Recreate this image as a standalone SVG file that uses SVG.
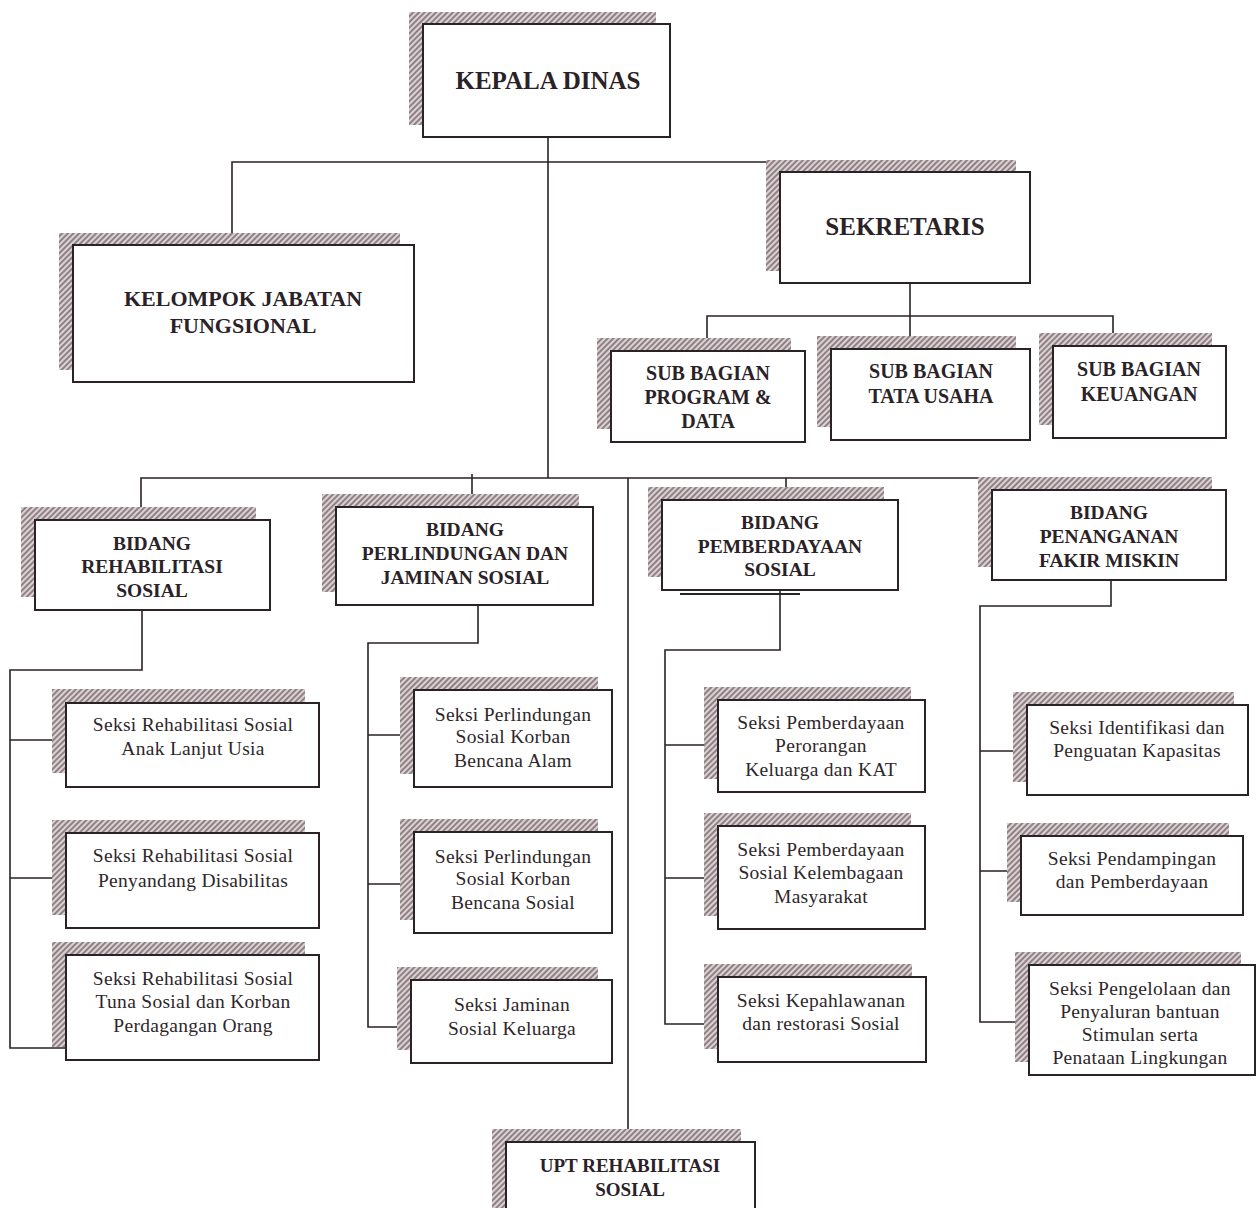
<svg xmlns="http://www.w3.org/2000/svg" width="1257" height="1208" viewBox="0 0 1257 1208">
<defs>
<pattern id="hatch" patternUnits="userSpaceOnUse" width="4" height="4" patternTransform="rotate(45)">
<rect width="4" height="4" fill="#ddd2d3"/>
<line x1="1" y1="0" x2="1" y2="4" stroke="#8e8185" stroke-width="2"/>
</pattern>
</defs>
<style>
.sh{fill:url(#hatch)}
.bx{fill:#fff;stroke:#2a2226;stroke-width:2}
.ln{fill:none;stroke:#2a2226;stroke-width:1.6}
.h{font-family:"Liberation Serif","Times New Roman",serif;font-weight:bold;fill:#2a2226;text-anchor:middle}
.s{font-family:"Liberation Serif","Times New Roman",serif;font-size:19.5px;letter-spacing:0.3px;fill:#2e272a;text-anchor:middle}
.h22{font-size:25px}
.h20{font-size:22px}
.hsb{font-size:20px}
.h18{font-size:19.5px}
</style>
<rect width="1257" height="1208" fill="#fff"/>

<g id="connectors" class="ln">
<path d="M548 137V478"/>
<path d="M232 245V162H910V172"/>
<path d="M910 283V316"/>
<path d="M707 351V316H1113V346"/>
<path d="M910 316V349"/>
<path d="M141 520V478H1111V490"/>
<path d="M472 474V507"/>
<path d="M628 478V1142"/>
<path d="M786 478V500"/>
<path d="M142 610V670H10V1048H66"/>
<path d="M10 740H66M10 878H66"/>
<path d="M478 605V643H368V1027H411"/>
<path d="M368 735H414M368 884H414"/>
<path d="M780 590V650H665V1024H718"/>
<path d="M665 745H718M665 878H718"/>
<path d="M1111 580V606H980V1022H1029"/>
<path d="M980 751H1027M980 871H1021"/>
</g>

<g id="kepala-dinas">
<rect class="sh" x="409" y="12" width="247" height="113"/>
<rect class="bx" x="423" y="24" width="247" height="113"/>
<text class="h h22" x="548" y="89">KEPALA DINAS</text>
</g>

<g id="kelompok-jabatan-fungsional">
<rect class="sh" x="59" y="233" width="341" height="137"/>
<rect class="bx" x="73" y="245" width="341" height="137"/>
<text class="h h20" x="243" y="306">KELOMPOK JABATAN</text>
<text class="h h20" x="243" y="333">FUNGSIONAL</text>
</g>

<g id="sekretaris">
<rect class="sh" x="766" y="160" width="250" height="111"/>
<rect class="bx" x="780" y="172" width="250" height="111"/>
<text class="h h22" x="905" y="235">SEKRETARIS</text>
</g>

<g id="sub-bagian-program-data">
<rect class="sh" x="597" y="338" width="194" height="91"/>
<rect class="bx" x="611" y="351" width="194" height="91"/>
<text class="h hsb" x="708" y="380">SUB BAGIAN</text>
<text class="h hsb" x="708" y="404">PROGRAM &amp;</text>
<text class="h hsb" x="708" y="428">DATA</text>
</g>

<g id="sub-bagian-tata-usaha">
<rect class="sh" x="817" y="336" width="199" height="91"/>
<rect class="bx" x="831" y="349" width="199" height="91"/>
<text class="h hsb" x="931" y="378">SUB BAGIAN</text>
<text class="h hsb" x="931" y="403">TATA USAHA</text>
</g>

<g id="sub-bagian-keuangan">
<rect class="sh" x="1039" y="333" width="173" height="92"/>
<rect class="bx" x="1053" y="346" width="173" height="92"/>
<text class="h hsb" x="1139" y="376">SUB BAGIAN</text>
<text class="h hsb" x="1139" y="401">KEUANGAN</text>
</g>

<g id="bidang-rehabilitasi-sosial">
<rect class="sh" x="21" y="507" width="235" height="90"/>
<rect class="bx" x="35" y="520" width="235" height="90"/>
<text class="h h18" x="152" y="550">BIDANG</text>
<text class="h h18" x="152" y="573">REHABILITASI</text>
<text class="h h18" x="152" y="597">SOSIAL</text>
</g>

<g id="bidang-perlindungan-jaminan-sosial">
<rect class="sh" x="322" y="494" width="257" height="98"/>
<rect class="bx" x="336" y="507" width="257" height="98"/>
<text class="h h18" x="465" y="536">BIDANG</text>
<text class="h h18" x="465" y="560">PERLINDUNGAN DAN</text>
<text class="h h18" x="465" y="584">JAMINAN SOSIAL</text>
</g>

<g id="bidang-pemberdayaan-sosial">
<rect class="sh" x="648" y="487" width="236" height="90"/>
<line x1="680" y1="594" x2="800" y2="594" stroke="#2a2226" stroke-width="2"/>
<rect class="bx" x="662" y="500" width="236" height="90"/>
<text class="h h18" x="780" y="529">BIDANG</text>
<text class="h h18" x="780" y="553">PEMBERDAYAAN</text>
<text class="h h18" x="780" y="576">SOSIAL</text>
</g>

<g id="bidang-penanganan-fakir-miskin">
<rect class="sh" x="978" y="477" width="234" height="90"/>
<rect class="bx" x="992" y="490" width="234" height="90"/>
<text class="h h18" x="1109" y="519">BIDANG</text>
<text class="h h18" x="1109" y="543">PENANGANAN</text>
<text class="h h18" x="1109" y="567">FAKIR MISKIN</text>
</g>

<g id="seksi-rehab-anak-lansia">
<rect class="sh" x="52" y="689" width="253" height="84"/>
<rect class="bx" x="66" y="703" width="253" height="84"/>
<text class="s" x="193" y="731">Seksi Rehabilitasi Sosial</text>
<text class="s" x="193" y="755">Anak Lanjut Usia</text>
</g>

<g id="seksi-rehab-disabilitas">
<rect class="sh" x="52" y="820" width="253" height="95"/>
<rect class="bx" x="66" y="833" width="253" height="95"/>
<text class="s" x="193" y="862">Seksi Rehabilitasi Sosial</text>
<text class="s" x="193" y="887">Penyandang Disabilitas</text>
</g>

<g id="seksi-rehab-tuna-sosial">
<rect class="sh" x="52" y="942" width="253" height="105"/>
<rect class="bx" x="66" y="955" width="253" height="105"/>
<text class="s" x="193" y="985">Seksi Rehabilitasi Sosial</text>
<text class="s" x="193" y="1008">Tuna Sosial dan Korban</text>
<text class="s" x="193" y="1032">Perdagangan Orang</text>
</g>

<g id="seksi-perlindungan-bencana-alam">
<rect class="sh" x="400" y="677" width="198" height="97"/>
<rect class="bx" x="414" y="690" width="198" height="97"/>
<text class="s" x="513" y="721">Seksi Perlindungan</text>
<text class="s" x="513" y="743">Sosial Korban</text>
<text class="s" x="513" y="767">Bencana Alam</text>
</g>

<g id="seksi-perlindungan-bencana-sosial">
<rect class="sh" x="400" y="819" width="198" height="101"/>
<rect class="bx" x="414" y="832" width="198" height="101"/>
<text class="s" x="513" y="863">Seksi Perlindungan</text>
<text class="s" x="513" y="885">Sosial Korban</text>
<text class="s" x="513" y="909">Bencana Sosial</text>
</g>

<g id="seksi-jaminan-sosial-keluarga">
<rect class="sh" x="397" y="967" width="201" height="83"/>
<rect class="bx" x="411" y="980" width="201" height="83"/>
<text class="s" x="512" y="1011">Seksi Jaminan</text>
<text class="s" x="512" y="1035">Sosial Keluarga</text>
</g>

<g id="seksi-pemberdayaan-perorangan">
<rect class="sh" x="704" y="687" width="207" height="92"/>
<rect class="bx" x="718" y="700" width="207" height="92"/>
<text class="s" x="821" y="729">Seksi Pemberdayaan</text>
<text class="s" x="821" y="752">Perorangan</text>
<text class="s" x="821" y="776">Keluarga dan KAT</text>
</g>

<g id="seksi-pemberdayaan-kelembagaan">
<rect class="sh" x="704" y="813" width="207" height="103"/>
<rect class="bx" x="718" y="826" width="207" height="103"/>
<text class="s" x="821" y="856">Seksi Pemberdayaan</text>
<text class="s" x="821" y="879">Sosial Kelembagaan</text>
<text class="s" x="821" y="903">Masyarakat</text>
</g>

<g id="seksi-kepahlawanan">
<rect class="sh" x="704" y="964" width="208" height="85"/>
<rect class="bx" x="718" y="977" width="208" height="85"/>
<text class="s" x="821" y="1007">Seksi Kepahlawanan</text>
<text class="s" x="821" y="1030">dan restorasi Sosial</text>
</g>

<g id="seksi-identifikasi">
<rect class="sh" x="1013" y="692" width="221" height="90"/>
<rect class="bx" x="1027" y="705" width="221" height="90"/>
<text class="s" x="1137" y="734">Seksi Identifikasi dan</text>
<text class="s" x="1137" y="757">Penguatan Kapasitas</text>
</g>

<g id="seksi-pendampingan">
<rect class="sh" x="1007" y="823" width="222" height="79"/>
<rect class="bx" x="1021" y="836" width="222" height="79"/>
<text class="s" x="1132" y="865">Seksi Pendampingan</text>
<text class="s" x="1132" y="888">dan Pemberdayaan</text>
</g>

<g id="seksi-pengelolaan">
<rect class="sh" x="1015" y="952" width="226" height="110"/>
<rect class="bx" x="1029" y="965" width="226" height="110"/>
<text class="s" x="1140" y="995">Seksi Pengelolaan dan</text>
<text class="s" x="1140" y="1018">Penyaluran bantuan</text>
<text class="s" x="1140" y="1041">Stimulan serta</text>
<text class="s" x="1140" y="1064">Penataan Lingkungan</text>
</g>

<g id="upt-rehabilitasi-sosial">
<rect class="sh" x="492" y="1129" width="249" height="100"/>
<rect class="bx" x="506" y="1142" width="249" height="100"/>
<text class="h" style="font-size:19px" x="630" y="1172">UPT REHABILITASI</text>
<text class="h" style="font-size:19px" x="630" y="1196">SOSIAL</text>
</g>
</svg>
